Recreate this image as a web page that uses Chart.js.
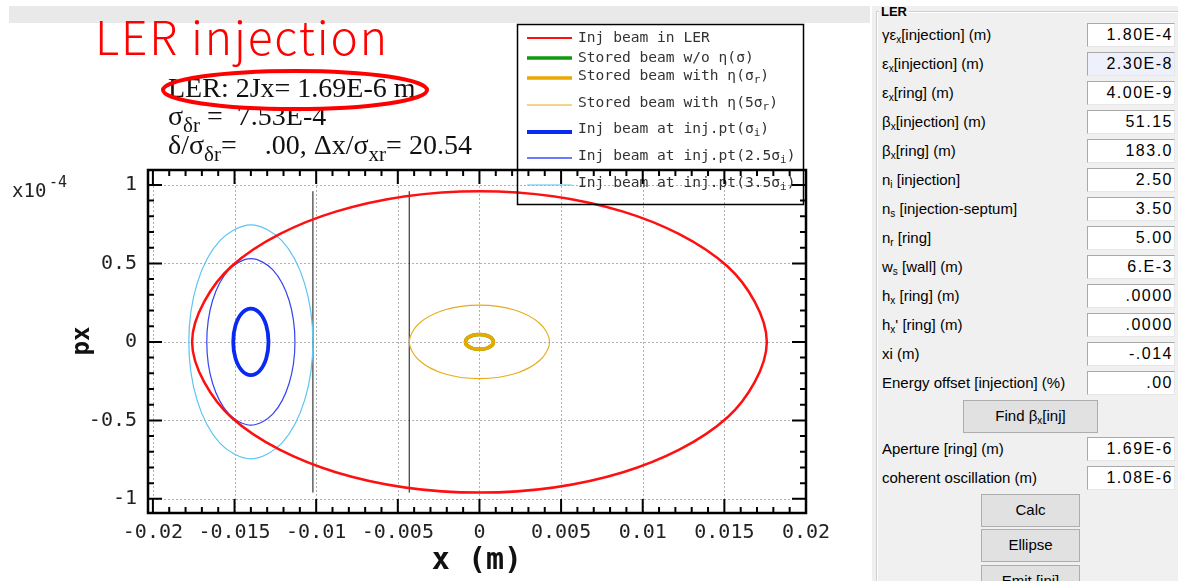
<!DOCTYPE html>
<html>
<head>
<meta charset="utf-8">
<script src="https://cdn.jsdelivr.net/npm/chart.js@4.4.1/dist/chart.umd.min.js"></script>
<style>
  html, body { margin: 0; padding: 0; background: #fff; width: 1178px; height: 581px; overflow: hidden; }
  #plot { position: absolute; left: 0; top: 0; }
  #panel { position: absolute; left: 872px; top: 6px; width: 306px; height: 575px; background: #f0f0f0;
           font-family: "Liberation Sans", Arial, sans-serif; font-size: 15px; color: #000; overflow: hidden; }
  #group { position: absolute; left: 4px; top: 5px; width: 400px; height: 620px; border: 1px solid #cfcfcf;
           box-shadow: inset 1px 1px 0 #fff; }
  #grpTitle { position: absolute; left: 7px; top: -2px; padding: 0 2px; background: #f0f0f0; font-weight: bold; font-size: 13px; }
  .lbl { position: absolute; left: 10px; white-space: nowrap; line-height: 18px; }
  .val { position: absolute; left: 215px; width: 88px; height: 24px; box-sizing: border-box; background: #fff;
         border: 1px solid; border-color: #a9a9a9 #e6e6e6 #e6e6e6 #a9a9a9; text-align: right; padding-right: 1px;
         font-size: 16px; letter-spacing: 1.5px; line-height: 22px; }
  .val.focus { background: #eef0fb; }
  .btn { position: absolute; height: 33px; box-sizing: border-box; background: #e1e1e1; border: 1px solid #adadad;
         text-align: center; line-height: 30px; }
  sub { font-size: 10px; vertical-align: -3px; line-height: 0; }
</style>
</head>
<body>
<canvas id="plot" width="870" height="581"></canvas>
<div id="panel">
  <div id="group"></div>
  <div id="grpTitle">LER</div>
</div>
<script>
// axis ticks
const xTicks = [-0.02, -0.015, -0.01, -0.005, 0, 0.005, 0.01, 0.015, 0.02];
const xTickLabels = ['-0.02', '-0.015', '-0.01', '-0.005', '0', '0.005', '0.01', '0.015', '0.02'];
const yTicks = [-1, -0.5, 0, 0.5, 1];
const yTickLabels = ['-1', '-0.5', '0', '0.5', '1'];

// phase-space ellipses: x (m) and px (x1e-4), points every 30 deg starting at the right edge
const lerInjX = [0.0176, 0.0152, 0.0088, 0, -0.0088, -0.0152, -0.0176, -0.0152, -0.0088, 0, 0.0088, 0.0152];
const lerInjPx = [0, 0.48, 0.83, 0.96, 0.83, 0.48, 0, -0.48, -0.83, -0.96, -0.83, -0.48];

const storedX = [0.00086, 0.00074, 0.00043, 0, -0.00043, -0.00074, -0.00086, -0.00074, -0.00043, 0, 0.00043, 0.00074];
const storedPx = [0, 0.024, 0.041, 0.047, 0.041, 0.024, 0, -0.024, -0.041, -0.047, -0.041, -0.024];

const storedEtaX = [0.00086, 0.00074, 0.00043, 0, -0.00043, -0.00074, -0.00086, -0.00074, -0.00043, 0, 0.00043, 0.00074];
const storedEtaPx = [0, 0.024, 0.041, 0.047, 0.041, 0.024, 0, -0.024, -0.041, -0.047, -0.041, -0.024];

const stored5X = [0.0043, 0.0037, 0.00215, 0, -0.00215, -0.0037, -0.0043, -0.0037, -0.00215, 0, 0.00215, 0.0037];
const stored5Px = [0, 0.117, 0.203, 0.234, 0.203, 0.117, 0, -0.117, -0.203, -0.234, -0.203, -0.117];

const injPtX = [-0.01292, -0.01306, -0.01346, -0.014, -0.01454, -0.01494, -0.01508, -0.01494, -0.01454, -0.014, -0.01346, -0.01306];
const injPtPx = [0, 0.106, 0.184, 0.212, 0.184, 0.106, 0, -0.106, -0.184, -0.212, -0.184, -0.106];

const injPt25X = [-0.0113, -0.01166, -0.01265, -0.014, -0.01535, -0.01634, -0.0167, -0.01634, -0.01535, -0.014, -0.01265, -0.01166];
const injPt25Px = [0, 0.265, 0.459, 0.53, 0.459, 0.265, 0, -0.265, -0.459, -0.53, -0.459, -0.265];

const injPt35X = [-0.0102, -0.01071, -0.0121, -0.014, -0.0159, -0.01729, -0.0178, -0.01729, -0.0159, -0.014, -0.0121, -0.01071];
const injPt35Px = [0, 0.373, 0.645, 0.745, 0.645, 0.373, 0, -0.373, -0.645, -0.745, -0.645, -0.373];

// septum walls
const wallX = [-0.0102, -0.0043];
const wallPx = [-0.96, 0.96];

// parameter panel
const panelLabels = [
  'γε<sub>x</sub>[injection] (m)', 'ε<sub>x</sub>[injection] (m)', 'ε<sub>x</sub>[ring] (m)',
  'β<sub>x</sub>[injection] (m)', 'β<sub>x</sub>[ring] (m)', 'n<sub>i</sub> [injection]',
  'n<sub>s</sub> [injection-septum]', 'n<sub>r</sub> [ring]', 'w<sub>s</sub> [wall] (m)',
  'h<sub>x</sub> [ring] (m)', "h<sub>x</sub>' [ring] (m)", 'xi (m)', 'Energy offset [injection] (%)'
];
const panelValues = ['1.80E-4', '2.30E-8', '4.00E-9', '51.15', '183.0', '2.50', '3.50', '5.00', '6.E-3', '.0000', '.0000', '-.014', '.00'];
const resultLabels = ['Aperture [ring] (m)', 'coherent oscillation (m)'];
const resultValues = ['1.69E-6', '1.08E-6'];

const panel = document.getElementById('panel');
function addRow(label, value, cy, focus) {
  const l = document.createElement('div');
  l.className = 'lbl';
  l.style.top = (cy - 6 - 9) + 'px';
  l.innerHTML = label;
  panel.appendChild(l);
  const v = document.createElement('div');
  v.className = 'val' + (focus ? ' focus' : '');
  v.style.top = (cy - 6 - 12) + 'px';
  v.textContent = value;
  panel.appendChild(v);
}
function addButton(html, left, top, width) {
  const b = document.createElement('div');
  b.className = 'btn';
  b.style.left = left + 'px';
  b.style.top = top + 'px';
  b.style.width = width + 'px';
  b.innerHTML = html;
  panel.appendChild(b);
}
panelLabels.forEach((t, i) => addRow(t, panelValues[i], 35 + i * 29, i === 1));
addButton('Find β<sub>x</sub>[inj]', 91, 394, 135);
resultLabels.forEach((t, i) => addRow(t, resultValues[i], 449 + i * 29, false));
addButton('Calc', 109, 488, 99);
addButton('Ellipse', 109, 523, 99);
addButton('Emit [inj]', 109, 559, 99);

// closed curve: one extra point at each end so the spline joins smoothly
function loop(xs, ys) {
  const n = xs.length;
  const order = [n - 1, ...xs.keys(), 0, 1];
  return order.map(i => ({ x: xs[i], y: ys[i] }));
}
const hideEnds = {
  borderColor: c => (c.p0DataIndex === 0 || c.p1DataIndex === c.chart.data.datasets[c.datasetIndex].data.length - 1)
    ? 'rgba(0,0,0,0)' : undefined
};

function ellipse(label, xs, ys, color, width, extra) {
  return Object.assign({
    label, data: loop(xs, ys), borderColor: color, borderWidth: width,
    showLine: true, tension: 0.33, pointRadius: 0, segment: hideEnds, order: 0
  }, extra || {});
}

const datasets = [
  ellipse('Inj beam in LER', lerInjX, lerInjPx, '#ff1010', 2.5, { legendWidth: 2 }),
  ellipse('Stored beam w/o η(σ)', storedX, storedPx, '#109a10', 3.5, { order: 1 }),
  ellipse('Stored beam with η(σ_r)', storedEtaX, storedEtaPx, '#eaa900', 3.5),
  ellipse('Stored beam with η(5σ_r)', stored5X, stored5Px, '#e8aa18', 1.1, { legendWidth: 1 }),
  ellipse('Inj beam at inj.pt(σ_i)', injPtX, injPtPx, '#0a2af2', 3.8),
  ellipse('Inj beam at inj.pt(2.5σ_i)', injPt25X, injPt25Px, '#3444f2', 1.2, { legendColor: '#6a7bff', legendWidth: 2 }),
  ellipse('Inj beam at inj.pt(3.5σ_i)', injPt35X, injPt35Px, '#5cc4f2', 1.2, { legendWidth: 1.2 }),
];
wallX.forEach(wx => datasets.push({
  label: 'wall', noLegend: true, showLine: true, tension: 0, pointRadius: 0,
  borderColor: '#111', borderWidth: 1, order: 0,
  data: wallPx.map(py => ({ x: wx, y: py }))
}));

// text with "_c" marking a subscript character
function richText(ctx, text, x, y, size, subSize, family, drop) {
  const parts = text.split(/_(.)/);
  parts.forEach((t, i) => {
    const sub = i % 2 === 1;
    ctx.font = (sub ? subSize : size) + 'px ' + family;
    ctx.fillText(t, x, sub ? y + drop : y);
    x += ctx.measureText(t).width;
  });
}

const legendLineY = [38, 58, 78, 105, 132, 158, 185];
const legendTextY = [38, 58, 76, 103, 129, 156, 183];

const decorations = {
  id: 'decorations',
  beforeDraw(chart) {
    const ctx = chart.ctx;
    ctx.save();
    ctx.fillStyle = '#e9e9e9';
    ctx.fillRect(9, 6, 870, 17);
    ctx.restore();
  },
  beforeDatasetsDraw(chart) {
    const { ctx, chartArea: a, scales: { x, y } } = chart;
    ctx.save();
    ctx.strokeStyle = '#b0b0b0';
    ctx.lineWidth = 1;
    ctx.setLineDash([2, 2]);
    ctx.beginPath();
    xTicks.forEach(v => { const p = Math.round(x.getPixelForValue(v)) + 0.5; ctx.moveTo(p, a.top); ctx.lineTo(p, a.bottom); });
    yTicks.forEach(v => { const p = Math.round(y.getPixelForValue(v)) + 0.5; ctx.moveTo(a.left, p); ctx.lineTo(a.right, p); });
    ctx.stroke();
    ctx.restore();
  },
  afterDatasetsDraw(chart) {
    const { ctx, chartArea: a, scales: { x, y } } = chart;
    ctx.save();

    // legend box
    ctx.strokeStyle = '#000';
    ctx.lineWidth = 1.5;
    ctx.strokeRect(517.5, 24.5, 286, 180);
    let row = 0;
    chart.data.datasets.forEach(ds => {
      if (ds.noLegend) return;
      const ly = legendLineY[row];
      ctx.strokeStyle = ds.legendColor || ds.borderColor;
      ctx.lineWidth = ds.legendWidth || ds.borderWidth;
      ctx.beginPath();
      ctx.moveTo(527, ly);
      ctx.lineTo(572, ly);
      ctx.stroke();
      ctx.fillStyle = '#333';
      ctx.textBaseline = 'middle';
      richText(ctx, ds.label, 578, legendTextY[row], 14.6, 11, '"DejaVu Sans Mono"', 4);
      row++;
    });

    // ticks, inward on all four sides
    ctx.strokeStyle = '#000';
    ctx.lineWidth = 2;
    ctx.beginPath();
    for (let i = -20; i <= 20; i++) {
      const p = x.getPixelForValue(i / 1000);
      const len = i % 5 === 0 ? 14 : 6;
      ctx.moveTo(p, a.bottom); ctx.lineTo(p, a.bottom - len);
      ctx.moveTo(p, a.top); ctx.lineTo(p, a.top + len);
    }
    for (let i = -10; i <= 10; i++) {
      const p = y.getPixelForValue(i / 10);
      const len = i % 5 === 0 ? 14 : 6;
      ctx.moveTo(a.left, p); ctx.lineTo(a.left + len, p);
      ctx.moveTo(a.right, p); ctx.lineTo(a.right - len, p);
    }
    ctx.stroke();
    ctx.lineWidth = 2.5;
    ctx.strokeRect(a.left, a.top, a.right - a.left, a.bottom - a.top);

    // axis titles and multiplier
    ctx.fillStyle = '#111';
    ctx.textAlign = 'center';
    ctx.textBaseline = 'middle';
    ctx.font = 'bold 30px "DejaVu Sans Mono"';
    ctx.fillText('x (m)', 477, 561);
    ctx.save();
    ctx.translate(83, 341);
    ctx.rotate(-Math.PI / 2);
    ctx.font = 'bold 24px "DejaVu Sans Mono"';
    ctx.fillText('px', 0, 0);
    ctx.restore();
    ctx.textAlign = 'left';
    ctx.textBaseline = 'alphabetic';
    ctx.fillStyle = '#222';
    ctx.font = '19px "DejaVu Sans Mono"';
    ctx.fillText('x10', 12, 197);
    ctx.font = '15px "DejaVu Sans Mono"';
    ctx.fillText('-4', 49, 187);

    // heading
    ctx.fillStyle = '#ff0000';
    ctx.font = '300 46px "Noto Sans CJK JP"';
    ctx.letterSpacing = '1.9px';
    ctx.fillText('LER injection', 95, 55);
    ctx.letterSpacing = '0px';

    // beam summary
    ctx.fillStyle = '#111';
    const serif = '"Liberation Serif"';
    richText(ctx, 'LER: 2Jx= 1.69E-6 m', 168, 97, 28, 21, serif, 7);
    richText(ctx, 'σ_δ_r =  7.53E-4', 168, 125, 28, 21, serif, 7);
    richText(ctx, 'δ/σ_δ_r=    .00, Δx/σ_x_r= 20.54', 168, 154, 28, 21, serif, 7);

    ctx.strokeStyle = '#ff0000';
    ctx.lineWidth = 4;
    ctx.beginPath();
    ctx.ellipse(295, 90, 132, 19, 0, 0, Math.PI * 2);
    ctx.stroke();
    ctx.restore();
  }
};

const tickFont = { family: '"DejaVu Sans Mono"', size: 20 };

new Chart(document.getElementById('plot').getContext('2d'), {
  type: 'scatter',
  data: { datasets },
  options: {
    responsive: false,
    animation: false,
    events: [],
    layout: { padding: { left: 0, top: 170, right: 64, bottom: 0 } },
    plugins: { legend: { display: false }, tooltip: { enabled: false } },
    scales: {
      x: {
        type: 'linear', min: -0.0203, max: 0.02,
        grid: { display: false }, border: { display: false },
        afterBuildTicks: s => { s.ticks = xTicks.map(v => ({ value: v })); },
        afterFit: s => { s.height = 68; },
        ticks: { padding: 0, autoSkip: false, maxRotation: 0, color: '#222', font: tickFont,
                 callback: (v, i) => xTickLabels[i] }
      },
      y: {
        type: 'linear', min: -1.09, max: 1.095,
        grid: { display: false }, border: { display: false },
        afterBuildTicks: s => { s.ticks = yTicks.map(v => ({ value: v })); },
        afterFit: s => { s.width = 148; },
        ticks: { padding: 3, autoSkip: false, color: '#222', font: tickFont,
                 callback: (v, i) => yTickLabels[i] }
      }
    }
  },
  plugins: [decorations]
});
</script>
</body>
</html>
